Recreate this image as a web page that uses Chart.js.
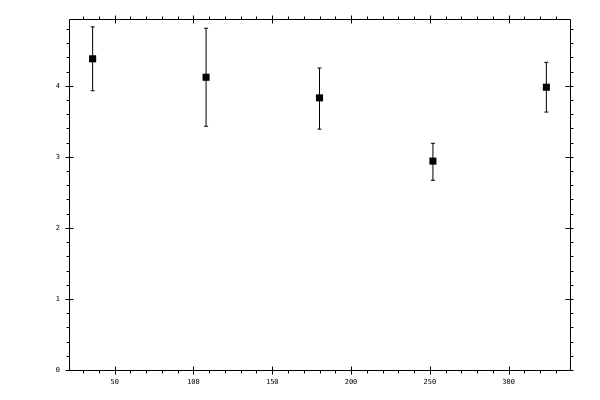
<!DOCTYPE html>
<html><head><meta charset="utf-8">
<script src="https://cdn.jsdelivr.net/npm/chart.js@4/dist/chart.umd.min.js"></script>
<style>html,body{margin:0;padding:0;background:#fff}#wrap{width:600px;height:400px}</style>
</head><body><div id="wrap"><canvas id="c" width="600" height="400"></canvas></div>
<script>
const xValues = [36, 108, 180, 252, 324];
const yValues = [4.38, 4.12, 3.83, 2.94, 3.98];
const yLow = [3.93, 3.43, 3.39, 2.67, 3.63];
const yHigh = [4.83, 4.81, 4.25, 3.19, 4.33];
const xTickLabels = [50, 100, 150, 200, 250, 300];
const yTickLabels = [0, 1, 2, 3, 4];
const xRange = [21, 339];
const yRange = [0, 4.94];

const frameTicks = {
  id: 'frameTicks',
  beforeDatasetsDraw(chart) {
    const {ctx, chartArea: a, scales: {x, y}} = chart;
    const L = Math.round(a.left) + 0.5, R = Math.round(a.right) + 0.5;
    const T = Math.round(a.top) + 0.5, B = Math.round(a.bottom) + 0.5;
    ctx.save();
    ctx.strokeStyle = '#000';
    ctx.lineWidth = 1;
    ctx.beginPath();
    ctx.rect(L, T, R - L, B - T);
    const seg = (x1, y1, x2, y2) => { ctx.moveTo(x1, y1); ctx.lineTo(x2, y2); };
    for (let v = 30; v <= 330; v += 10) {
      const p = Math.round(x.getPixelForValue(v)) + 0.5;
      if (xTickLabels.includes(v)) { seg(p, B - 4, p, B + 4); seg(p, T - 4, p, T + 4); }
      else { seg(p, B, p, B + 3); seg(p, T - 3, p, T); }
    }
    for (let k = 0; k <= 24; k++) {
      const v = k * 0.2;
      const p = Math.round(y.getPixelForValue(v)) + 0.5;
      if (k % 5 === 0) { seg(L - 4, p, L + 4, p); seg(R - 5, p, R + 3, p); }
      else { seg(L - 3, p, L, p); seg(R, p, R + 3, p); }
    }
    ctx.stroke();
    ctx.restore();
  }
};

const markerData = xValues.map((x, i) => ({x, y: yValues[i]}));
const errDatasets = xValues.map((x, i) => ({
  type: 'line',
  data: [{x, y: yLow[i]}, {x, y: yHigh[i]}],
  borderColor: '#000',
  borderWidth: 1,
  pointStyle: 'line',
  pointRadius: 2,
  pointBorderColor: '#000',
  pointBorderWidth: 1,
  fill: false,
  order: 2
}));

new Chart(document.getElementById('c'), {
  type: 'scatter',
  data: {
    datasets: [
      {
        data: markerData,
        pointStyle: 'rect',
        pointRadius: 5,
        pointBackgroundColor: '#000',
        pointBorderWidth: 0,
        order: 1
      },
      ...errDatasets
    ]
  },
  options: {
    responsive: false,
    animation: false,
    devicePixelRatio: 1,
    layout: {padding: {top: 19, right: 30, left: 0, bottom: 0}},
    plugins: {legend: {display: false}, tooltip: {enabled: false}},
    scales: {
      x: {
        type: 'linear', min: xRange[0], max: xRange[1], offset: false,
        grid: {display: false, drawTicks: false},
        border: {display: false},
        afterBuildTicks: s => { s.ticks = xTickLabels.map(v => ({value: v})); },
        afterFit: s => { s.height = 30; },
        ticks: {color: '#000', padding: 8, maxRotation: 0, autoSkip: false,
          font: {family: 'DejaVu Sans Mono', size: 7}}
      },
      y: {
        type: 'linear', min: yRange[0], max: yRange[1],
        grid: {display: false, drawTicks: false},
        border: {display: false},
        afterBuildTicks: s => { s.ticks = yTickLabels.map(v => ({value: v})); },
        afterFit: s => { s.width = 69; },
        ticks: {color: '#000', padding: 9, autoSkip: false,
          font: {family: 'DejaVu Sans Mono', size: 7}}
      }
    }
  },
  plugins: [frameTicks]
});
</script>
</body></html>
